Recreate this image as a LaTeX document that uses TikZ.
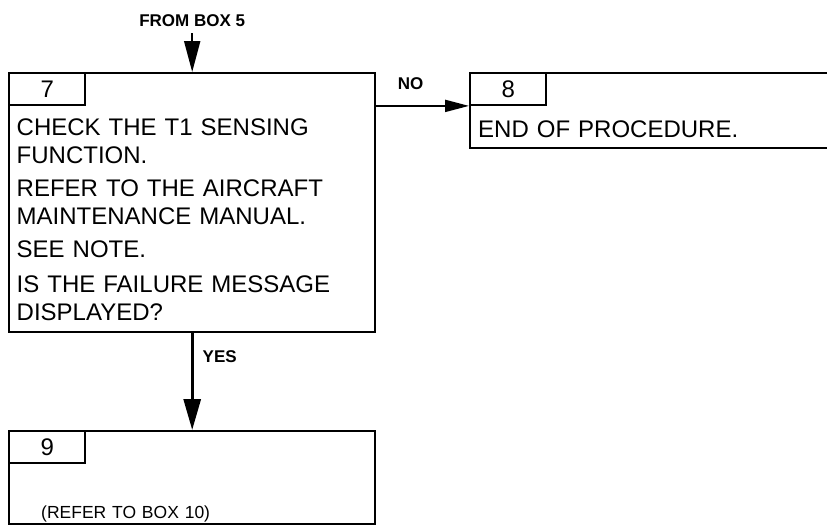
\documentclass[tikz,border=0pt]{standalone}
\usepackage{fontspec}
\setmainfont{Liberation Sans}
\usetikzlibrary{arrows.meta, positioning}

\begin{document}
\begin{tikzpicture}[
            x=1pt, y=-1pt,
            stepbox/.style={rectangle, draw, line width=2.4pt, anchor=north west, inner sep=0pt},
            tab/.style={rectangle, draw, line width=2.4pt, anchor=north west, minimum width=76pt, minimum height=31.5pt, inner sep=0pt, font=\fontsize{24}{28}\selectfont},
            body/.style={anchor=base west, inner sep=0pt, text width=350pt, align=left, font=\fontsize{24}{28}\selectfont},
            tag/.style={font=\fontsize{17}{20}\selectfont\bfseries, inner sep=2pt},
            arrow/.style={line width=2pt, -{Triangle[length=24pt, width=12pt]}},
            bigarrow/.style={line width=3pt, -{Triangle[length=31pt, width=17pt]}}
        ]
            \clip (0,0) rectangle (827,525);

            \node[stepbox, minimum width=366pt, minimum height=259pt] (box7) at (8,72) {};
            \node[tab] (tab7) at (box7.north west) {7};
            \node[body] (text7) at (16.5,135) {CHECK THE T1 SENSING\\FUNCTION.\\[5pt]REFER TO THE AIRCRAFT\\MAINTENANCE MANUAL.\\[5pt]SEE NOTE.\\[7pt]IS THE FAILURE MESSAGE\\DISPLAYED?};

            \node[stepbox, minimum width=400pt, minimum height=75pt] (box8) at (469,72) {};
            \node[tab] (tab8) at (box8.north west) {8};
            \node[body] (text8) at (478,137) {END OF PROCEDURE.};

            \node[stepbox, minimum width=366pt, minimum height=93pt] (box9) at (8,430) {};
            \node[tab] (tab9) at (box9.north west) {9};
            \node[body, font=\fontsize{17.5}{21}\selectfont] (text9) at (41,518) {(REFER TO BOX 10)};

            \node[tag, above=43pt of box7.north] (from5) {FROM BOX 5};

            \draw[line width=2pt, -{Triangle[length=31pt, width=16pt]}, shorten <=4pt] (from5.south) -- (box7.north);
            \draw[arrow] (box7.east |- tab8.south west) -- (tab8.south west) node[tag, pos=0.37, above=13.5pt] {NO};
            \draw[bigarrow] (box7.south) -- (box9.north) node[tag, pos=0.24, right=7pt] {YES};
        \end{tikzpicture}
\end{document}
